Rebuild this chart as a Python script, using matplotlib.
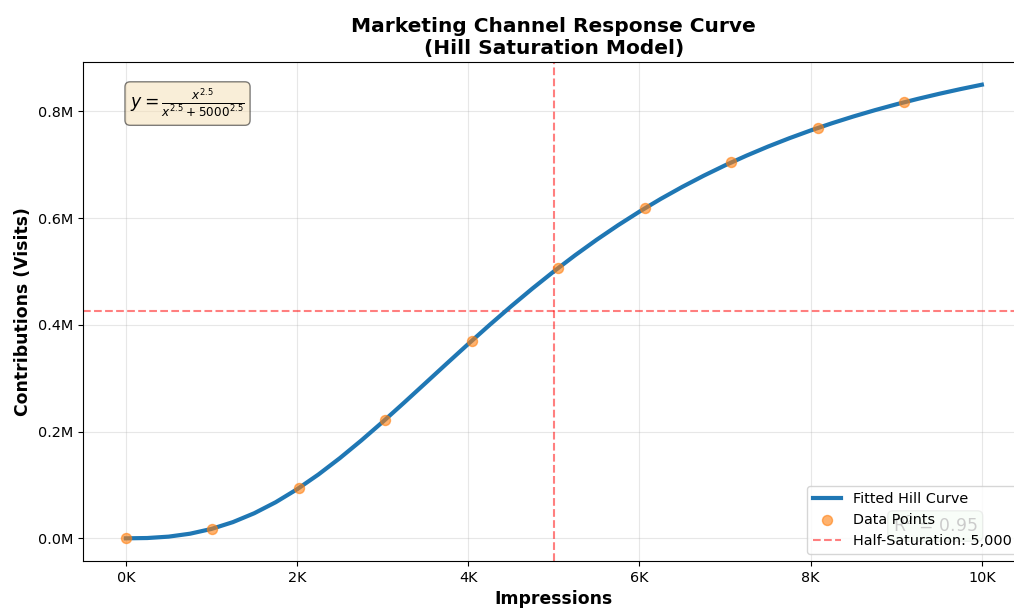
import matplotlib

matplotlib.use("Agg")
import matplotlib.pyplot as plt
from matplotlib.ticker import FuncFormatter

# Fitted Hill curve, sampled every 250 impressions (visits)
curve_x = list(range(0, 10001, 250))
curve_y = [0, 559, 3152, 8639, 17575, 30303, 46979, 67575, 91894, 119595,
           150221, 183233, 218050, 254084, 290762, 327568, 364043, 399803,
           434527, 467986, 500000, 530455, 559289, 586474, 612018, 635957,
           658341, 679236, 698714, 716854, 733743, 749442, 764057, 777635,
           790272, 802032, 812977, 823164, 832663, 841518, 849775]

# Observed data points
points_x = [0, 1010, 2020, 3030, 4040, 5051, 6061, 7071, 8081, 9091]
points_y = [0, 18000, 94000, 222000, 370000, 506000, 618000, 705000, 769000, 817000]

half_sat_x = 5000
half_sat_y = 425000
r_squared = 0.95

fig = plt.figure(figsize=(10.14, 6.08), dpi=100)
# the axes runs slightly past the right edge of the picture, as in the reference
ax = fig.add_axes((0.0819, 0.0773, 0.9286, 0.8207))

ax.plot(curve_x, curve_y, color="#1f77b4", lw=3, label="Fitted Hill Curve",
        solid_joinstyle="round", zorder=3)
ax.scatter(points_x, points_y, s=52, color="#ff7f0e", alpha=0.6,
           label="Data Points", zorder=4)
ax.axvline(half_sat_x, color="red", ls="--", lw=1.5, alpha=0.5,
           label=f"Half-Saturation: {half_sat_x:,}")
ax.axhline(half_sat_y, color="red", ls="--", lw=1.5, alpha=0.5)

ax.xaxis.set_major_formatter(FuncFormatter(lambda v, _: f"{v / 1000:.0f}K"))
ax.yaxis.set_major_formatter(FuncFormatter(lambda v, _: f"{v / 1e6:.1f}M"))
ax.tick_params(labelsize=10.35)

ax.set_xlabel("Impressions", fontsize=12.4, fontweight="bold")
ax.set_ylabel("Contributions (Visits)", fontsize=12.4, fontweight="bold")
ax.set_title("Marketing Channel Response Curve\n(Hill Saturation Model)",
             fontsize=14.5, fontweight="bold")
ax.grid(True, alpha=0.3)

ax.text(0.05, 0.95, r"$y = \frac{x^{2.5}}{x^{2.5} + 5000^{2.5}}$",
        transform=ax.transAxes, fontsize=12.4, va="top", ha="left",
        bbox=dict(boxstyle="round", facecolor="wheat", alpha=0.5))
ax.text(0.95, 0.05, f"R$^2$ = {r_squared:.2f}", transform=ax.transAxes,
        fontsize=12.4, va="bottom", ha="right",
        bbox=dict(boxstyle="round", facecolor="lightgreen", alpha=0.3))

ax.legend(loc="lower right", fontsize=10.35)

fig.savefig("out.png", dpi=100)
